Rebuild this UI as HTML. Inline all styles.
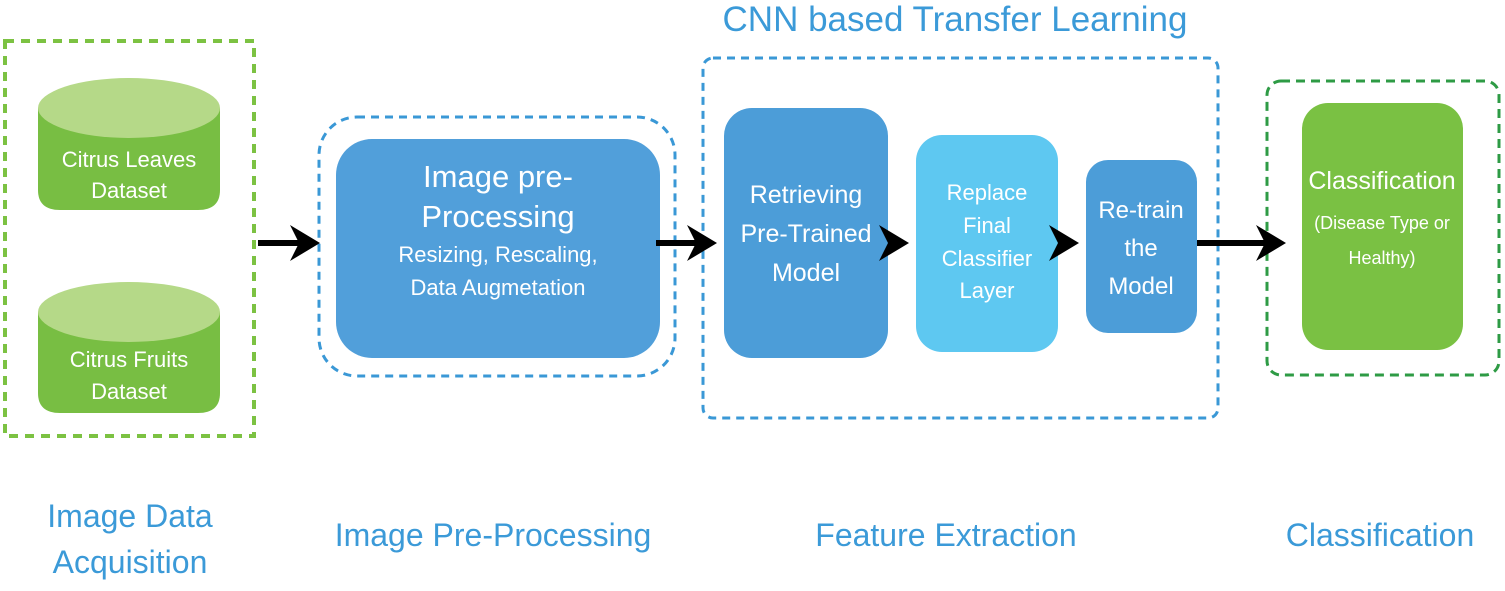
<!DOCTYPE html>
<html><head><meta charset="utf-8"><style>
html,body{margin:0;padding:0;background:#fff;}
svg text{font-family:"Liberation Sans",sans-serif;}
</style></head><body>
<svg width="1505" height="586" viewBox="0 0 1505 586" xmlns="http://www.w3.org/2000/svg">
<defs>
<marker id="ah" markerWidth="6" markerHeight="6" refX="4" refY="3" orient="auto" markerUnits="strokeWidth"><path d="M0,0 L5,3 L0,6 L1.5,3 z" fill="#000"/></marker>
</defs>
<rect x="5" y="41" width="249" height="395" fill="none" stroke="#7cc242" stroke-width="4" stroke-dasharray="9,7"/>
<path d="M38,108 L38,190 Q38,210 60,210 L198,210 Q220,210 220,190 L220,108 Z" fill="#78be43"/>
<ellipse cx="129" cy="108" rx="91" ry="30" fill="#b5d988"/>
<text x="129" y="167" fill="#fff" font-size="22" text-anchor="middle">Citrus Leaves</text>
<text x="129" y="198" fill="#fff" font-size="22" text-anchor="middle">Dataset</text>
<path d="M38,312 L38,393 Q38,413 60,413 L198,413 Q220,413 220,393 L220,312 Z" fill="#78be43"/>
<ellipse cx="129" cy="312" rx="91" ry="30" fill="#b5d988"/>
<text x="129" y="367" fill="#fff" font-size="22" text-anchor="middle">Citrus Fruits</text>
<text x="129" y="399" fill="#fff" font-size="22" text-anchor="middle">Dataset</text>
<rect x="319" y="117" width="356" height="259" rx="38" fill="none" stroke="#3a98d6" stroke-width="3" stroke-dasharray="8,6"/>
<rect x="336" y="139" width="324" height="219" rx="36" fill="#519fda"/>
<text x="498" y="187" fill="#fff" font-size="31" text-anchor="middle">Image pre-</text>
<text x="498" y="227" fill="#fff" font-size="31" text-anchor="middle">Processing</text>
<text x="498" y="262" fill="#fff" font-size="22" text-anchor="middle">Resizing, Rescaling,</text>
<text x="498" y="295" fill="#fff" font-size="22" text-anchor="middle">Data Augmetation</text>
<text x="955" y="31" fill="#3b9ad8" font-size="35" text-anchor="middle">CNN based Transfer Learning</text>
<rect x="703" y="58" width="515" height="360" rx="10" fill="none" stroke="#3a98d6" stroke-width="3" stroke-dasharray="8,6"/>
<rect x="724" y="108" width="164" height="250" rx="28" fill="#4c9dd8"/>
<text x="806" y="203" fill="#fff" font-size="25" text-anchor="middle">Retrieving</text>
<text x="806" y="242" fill="#fff" font-size="25" text-anchor="middle">Pre-Trained</text>
<text x="806" y="281" fill="#fff" font-size="25" text-anchor="middle">Model</text>
<rect x="916" y="135" width="142" height="217" rx="26" fill="#5ec8f1"/>
<text x="987" y="200" fill="#fff" font-size="22" text-anchor="middle">Replace</text>
<text x="987" y="233" fill="#fff" font-size="22" text-anchor="middle">Final</text>
<text x="987" y="266" fill="#fff" font-size="22" text-anchor="middle">Classifier</text>
<text x="987" y="298" fill="#fff" font-size="22" text-anchor="middle">Layer</text>
<rect x="1086" y="160" width="111" height="173" rx="22" fill="#4c9dd8"/>
<text x="1141" y="218" fill="#fff" font-size="24" text-anchor="middle">Re-train</text>
<text x="1141" y="256" fill="#fff" font-size="24" text-anchor="middle">the</text>
<text x="1141" y="294" fill="#fff" font-size="24" text-anchor="middle">Model</text>
<rect x="1267" y="81" width="232" height="294" rx="14" fill="none" stroke="#2e9b45" stroke-width="3" stroke-dasharray="9,6"/>
<rect x="1302" y="103" width="161" height="247" rx="26" fill="#7ac143"/>
<text x="1382" y="189" fill="#fff" font-size="25" text-anchor="middle">Classification</text>
<text x="1382" y="229" fill="#fff" font-size="18" text-anchor="middle">(Disease Type or</text>
<text x="1382" y="264" fill="#fff" font-size="18" text-anchor="middle">Healthy)</text>
<g stroke="#000" stroke-width="6" fill="none" marker-end="url(#ah)">
<line x1="258" y1="243" x2="314" y2="243"/>
<line x1="656" y1="243" x2="711" y2="243"/>
<line x1="888" y1="243" x2="903" y2="243"/>
<line x1="1058" y1="243" x2="1073" y2="243"/>
<line x1="1197" y1="243" x2="1280" y2="243"/>
</g>
<g fill="#3b9ad8" font-size="32" text-anchor="middle">
<text x="130" y="527">Image Data</text>
<text x="130" y="573">Acquisition</text>
<text x="493" y="546">Image Pre-Processing</text>
<text x="946" y="546">Feature Extraction</text>
<text x="1380" y="546">Classification</text>
</g>
</svg>
</body></html>
